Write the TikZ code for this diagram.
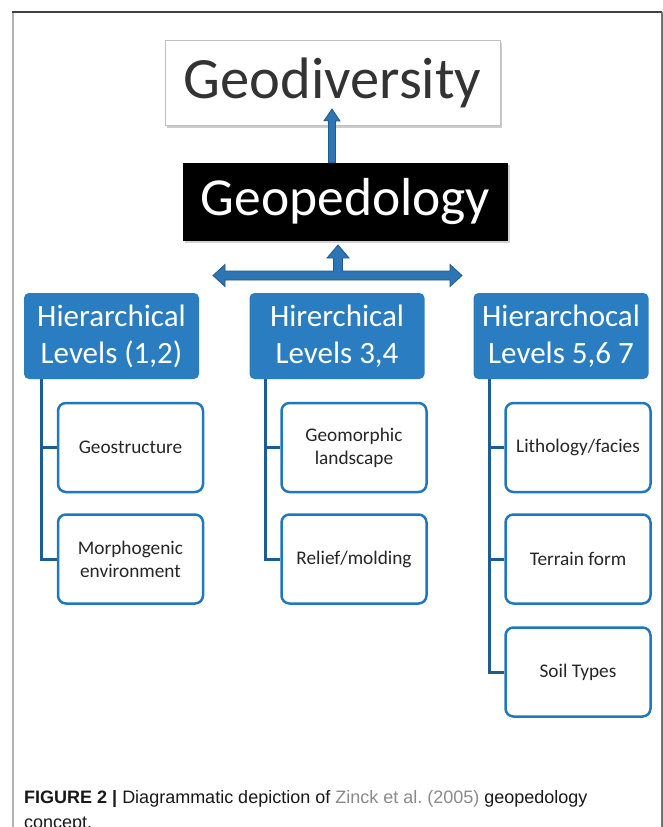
\documentclass[tikz,border=0pt]{standalone}
\usepackage{fontspec}
\setmainfont{Carlito}
\newfontfamily\capfont{Liberation Sans}
\usetikzlibrary{shadows}
\definecolor{lvblue}{HTML}{2A7DC0}
\definecolor{arrblue}{HTML}{2E75B6}
\definecolor{arredge}{HTML}{1F5A8C}
\definecolor{connc}{HTML}{1F5C94}
\definecolor{childedge}{HTML}{2177BD}
\definecolor{txtc}{HTML}{262626}
\definecolor{refgray}{HTML}{8A8A8A}
\begin{document}
\begin{tikzpicture}[x=1pt,y=-1pt,
  levelbox/.style={fill=lvblue, rounded corners=5pt, minimum width=175pt, minimum height=86pt,
    text=white, font=\fontsize{31}{37}\selectfont, align=center, inner sep=0pt},
  childbox/.style={draw=childedge, line width=2.5pt, fill=white, rounded corners=8pt,
    minimum width=145pt, minimum height=89pt, text=txtc, font=\fontsize{19.3}{23}\selectfont,
    align=center, inner sep=0pt},
  connline/.style={draw=connc, line width=3pt},
  blockarrow/.style={fill=arrblue, draw=arredge, line width=0.8pt, line join=miter}]
\useasboundingbox (0,0) rectangle (663,827);
\fill[white] (0,0) rectangle (663,827);
% frame
\draw[black!30, line width=2pt] (13,12) -- (13,830);
\draw[black!75, line width=1.2pt] (12,12) -- (662,12);
\draw[black!55, line width=1.5pt] (662,12) -- (662,830);
% top boxes
\node[draw=black!25, fill=white, line width=0.8pt, minimum width=335pt, minimum height=85pt, inner sep=0pt,
  drop shadow={shadow xshift=2pt, shadow yshift=-2.5pt, opacity=0.4},
  font=\fontsize{58.5}{60}\selectfont, text=black!80] (geodiv) at (332.5,82.5) {Geodiversity};
\node[fill=black, minimum width=325pt, minimum height=78pt, inner sep=0pt,
  drop shadow={shadow xshift=2pt, shadow yshift=-2pt, opacity=0.35},
  font=\fontsize{53.5}{56}\selectfont, text=white] (geoped) at (345.5,202) {Geopedology};
% upward arrow geopedology -> geodiversity
\coordinate (ua) at (332,0);
\filldraw[blockarrow] (ua |- geoped.north) ++(-3.5,0) -- ++(0,-42) -- ++(-4.5,0) -- (332,109) -- (340,121)
  -- ++(-4.5,0) -- (335.5,0 |- geoped.north) -- cycle;
% level boxes
\node[levelbox] (L1) at (111.5,336) {Hierarchical\\Levels (1,2)};
\node[levelbox] (L2) at (337,336) {Hirerchical\\Levels 3,4};
\node[levelbox] (L3) at (561,336) {Hierarchocal\\Levels 5,6 7};
% branching block arrow
\filldraw[blockarrow] (213,275.5) -- (225,264.5) -- (225,271) -- (333.5,271) -- (333.5,258) -- (327,258)
  -- (338,245) -- (349,258) -- (342.5,258) -- (342.5,271) -- (450,271) -- (450,264.5) -- (462,275.5)
  -- (450,286.5) -- (450,280) -- (225,280) -- (225,286.5) -- cycle;
% child boxes
\node[childbox] (c11) at (130.5,447.5) {Geostructure};
\node[childbox] (c12) at (130.5,559) {Morphogenic\\environment};
\node[childbox] (c21) at (354,447.5) {Geomorphic\\landscape};
\node[childbox] (c22) at (354,559) {Relief/molding};
\node[childbox] (c31) at (578,447.5) {Lithology/facies};
\node[childbox] (c32) at (578,559) {Terrain form};
\node[childbox] (c33) at (578,672) {Soil Types};
% connectors
\coordinate (b1) at (41,379);
\coordinate (b2) at (265,379);
\coordinate (b3) at (489,379);
\draw[connline] (b1) |- (c11.west);
\draw[connline] (b1) |- (c12.west);
\draw[connline] (b2) |- (c21.west);
\draw[connline] (b2) |- (c22.west);
\draw[connline] (b3) |- (c31.west);
\draw[connline] (b3) |- (c32.west);
\draw[connline] (b3) |- (c33.west);
% caption
\node[anchor=north west, inner sep=0pt, align=left, font=\capfont\fontsize{18}{25}\selectfont, text=black!90] (cap) at (24,790)
  {\textbf{FIGURE 2 |} Diagrammatic depiction of \textcolor{refgray}{Zinck et al.\ (2005)} geopedology\\concept.};
\end{tikzpicture}
\end{document}
